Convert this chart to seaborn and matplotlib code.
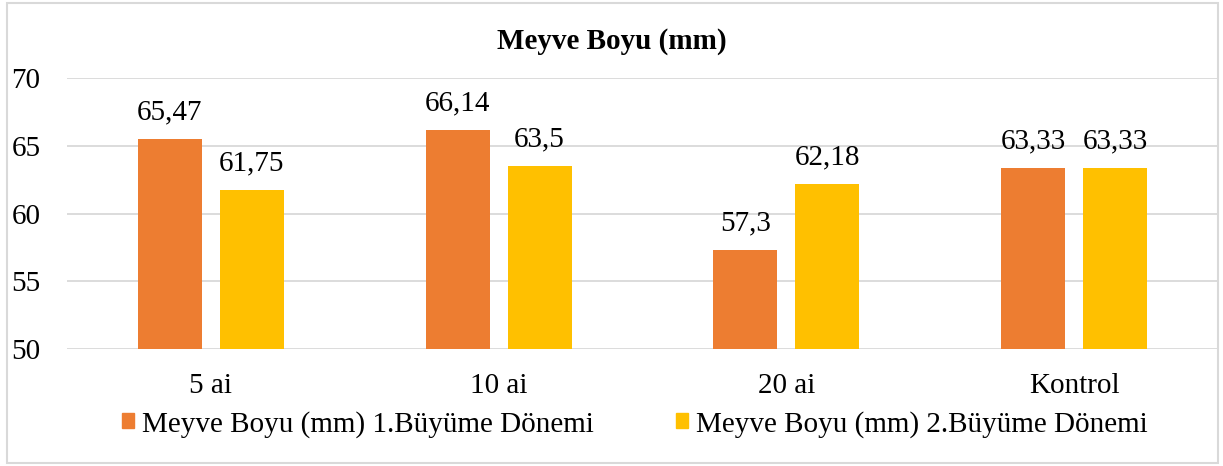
import numpy as np
import pandas as pd
import matplotlib
matplotlib.use("Agg")
import matplotlib.pyplot as plt
import seaborn as sns
from matplotlib.patches import Rectangle

CATEGORIES = ["5 ai", "10 ai", "20 ai", "Kontrol"]
SERIES = ["Meyve Boyu (mm) 1.Büyüme Dönemi", "Meyve Boyu (mm) 2.Büyüme Dönemi"]
DONEM_1 = [65.47, 66.14, 57.3, 63.33]
DONEM_2 = [61.75, 63.5, 62.18, 63.33]
COLORS = ["#ED7D31", "#FFC000"]

sns.set_theme(style="white")
plt.rcParams["font.family"] = ["Liberation Serif", "DejaVu Serif"]
plt.rcParams["text.color"] = "black"

df = pd.DataFrame({
    "Grup": CATEGORIES * 2,
    "Seri": [SERIES[0]] * 4 + [SERIES[1]] * 4,
    "Deger": DONEM_1 + DONEM_2,
})

fig = plt.figure(figsize=(12.23, 4.66), dpi=100)
ax = fig.add_axes([0.0548, 0.251, 0.9412, 0.5816])

sns.barplot(data=df, x="Grup", y="Deger", hue="Seri", palette=COLORS,
            width=0.57, gap=0.22, ax=ax, saturation=1, errorbar=None,
            linewidth=0, edgecolor="none")

ax.set_ylim(50, 70)
ax.set_yticks([50, 55, 60, 65, 70])
ax.set_xlim(-0.5, 3.5)
ax.yaxis.grid(True, color="#D9D9D9", linewidth=1.3)
ax.set_axisbelow(True)
for side in ["top", "right", "left", "bottom"]:
    ax.spines[side].set_visible(False)
ax.tick_params(axis="both", length=0, labelsize=21, colors="black")
ax.tick_params(axis="x", pad=17)
ax.tick_params(axis="y", pad=40)
for lbl in ax.get_yticklabels():
    lbl.set_horizontalalignment("left")
ax.set_xlabel("")
ax.set_ylabel("")

for cont in ax.containers:
    labels = [f"{v:g}".replace(".", ",") for v in cont.datavalues]
    ax.bar_label(cont, labels=labels, padding=10, fontsize=21, color="black")

ax.legend_.remove()
handles = [Rectangle((0, 0), 1, 1, color=c) for c in COLORS]
fig.legend(handles, SERIES, loc="center", bbox_to_anchor=(0.519, 0.09), ncol=2,
           frameon=False, fontsize=21, handlelength=0.42, handleheight=0.42,
           handletextpad=0.28, columnspacing=2.8)

fig.text(0.5, 0.91, "Meyve Boyu (mm)", ha="center", va="center",
         fontsize=21, fontweight="bold", color="black")

fig.patches.append(Rectangle((0.006, 0.006), 0.99, 0.988, transform=fig.transFigure,
                             fill=False, edgecolor="#D9D9D9", linewidth=1.5))

fig.savefig("out.png", dpi=100)
